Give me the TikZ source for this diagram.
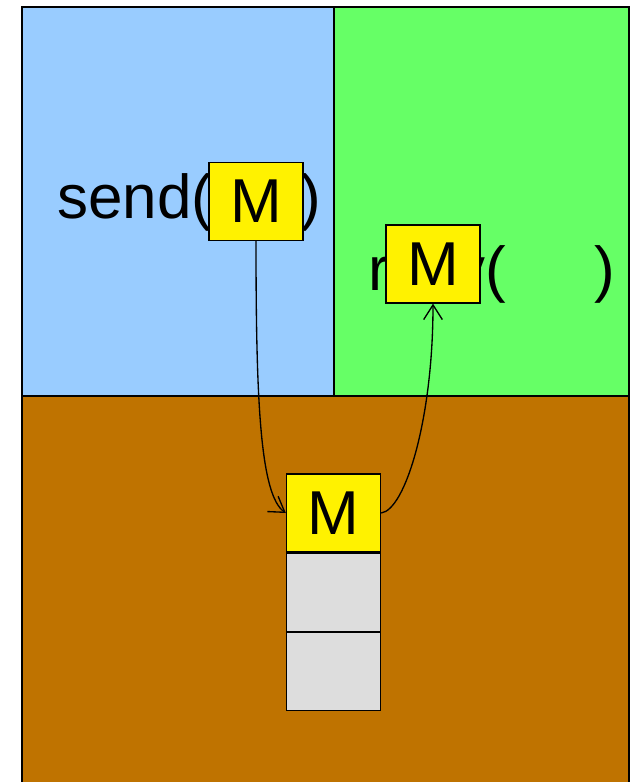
\documentclass[tikz,border=0pt]{standalone}
\usepackage{fontspec}
\setmainfont{Liberation Sans}
\usetikzlibrary{arrows.meta}
\definecolor{sendbg}{HTML}{99CCFF}
\definecolor{recvbg}{HTML}{66FF66}
\definecolor{kernbg}{HTML}{BF7300}
\definecolor{slotgray}{HTML}{DDDDDD}
\begin{document}
\begin{tikzpicture}[x=0.75pt,y=-0.75pt,
  bigtext/.style={font=\fontsize{46.5pt}{50pt}\selectfont, inner sep=0pt},
  msgbox/.style={draw, line width=1pt, fill=yellow, minimum width=70.5pt, minimum height=58.5pt,
    inner sep=0pt, font=\fontsize{46.5pt}{50pt}\selectfont},
  slot/.style={draw, line width=1pt, fill=slotgray, minimum width=70.5pt, minimum height=58.5pt, inner sep=0pt},
  flow/.style={line width=1pt, -{Straight Barb[length=11pt,width=14pt,line width=1pt]}}]
\useasboundingbox (0,0) rectangle (631,782);
% the three regions
\fill[sendbg] (22,7) rectangle (334,396);
\fill[recvbg] (334,7) rectangle (629,396);
\fill[kernbg] (22,396) rectangle (629,782);
\draw[line width=1.2pt] (22,782) -- (22,7) -- (629,7) -- (629,782);
\draw[line width=1.2pt] (334,7) -- (334,396);
\draw[line width=1.2pt] (22,396) -- (629,396);
% call texts
\node[bigtext, anchor=base west] (sendtxt) at (57,218) {send(\hspace{66pt})};
\node[bigtext, anchor=base west] (recvtxt) at (368,290) {recv(\hspace{66pt})};
% messages
\node[msgbox] (msend) at (256,201.5) {M};
\node[msgbox] (mrecv) at (433,264) {M};
% queue
\node[msgbox] (mq) at (333.5,513) {M};
\node[slot, anchor=north] (q1) at (mq.south) {};
\node[slot, anchor=north] (q2) at (q1.south) {};
% transfers
\draw[flow] (msend.south) .. controls (256,400) and (260,495) .. (mq.west);
\draw[flow] (mq.east) .. controls (405,510) and (433,420) .. (mrecv.south);
\end{tikzpicture}
\end{document}
